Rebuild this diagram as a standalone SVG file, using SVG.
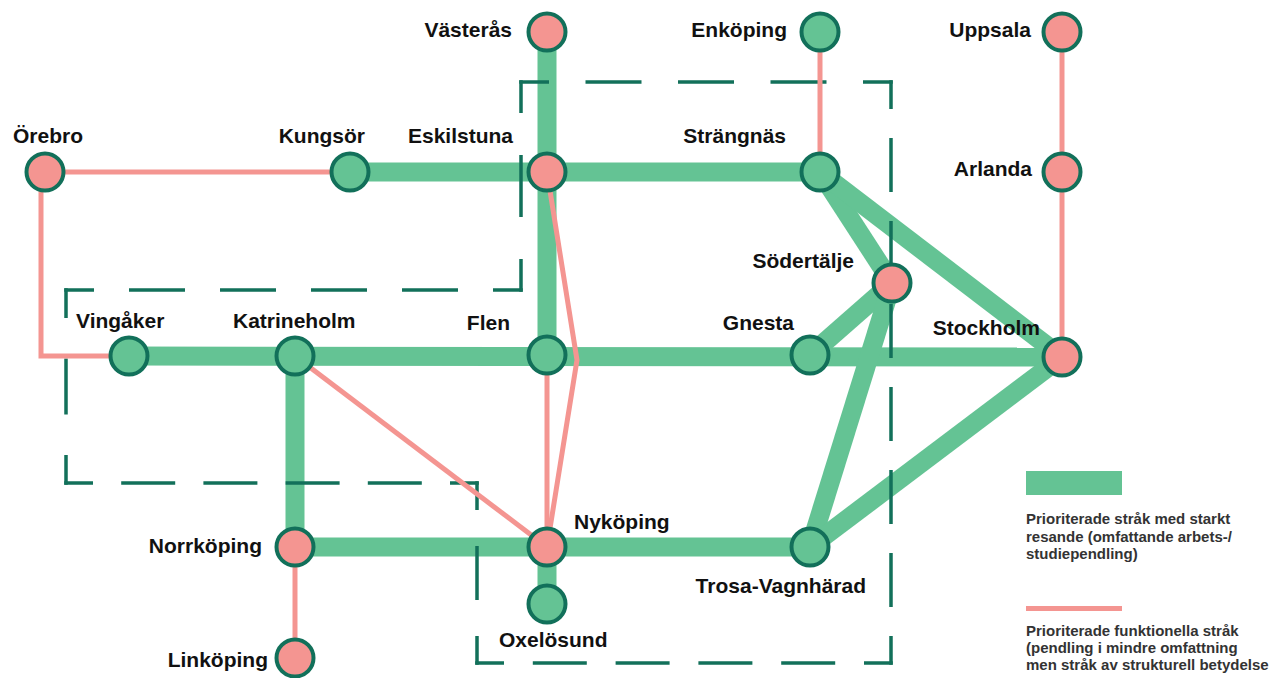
<svg xmlns="http://www.w3.org/2000/svg" width="1274" height="678" viewBox="0 0 1274 678">
<style>
.g{stroke:#64c394;stroke-width:19;fill:none;stroke-linecap:butt}
.p{stroke:#f49591;stroke-width:5;fill:none}
.d{stroke:#12705a;stroke-width:3.5;fill:none;stroke-linecap:square}
.ng{fill:#64c394;stroke:#12705a;stroke-width:4}
.np{fill:#f49591;stroke:#12705a;stroke-width:4}
.lb{font-family:"Liberation Sans",Arial,sans-serif;font-weight:bold;font-size:21px;fill:#111}
.lg{font-family:"Liberation Sans",Arial,sans-serif;font-weight:bold;font-size:15px;fill:#333}
</style>
<rect width="1274" height="678" fill="#fff"/>
<g id="connectors">
<g id="strong">
<line class="g" x1="547" y1="32" x2="547" y2="355"/>
<line class="g" x1="350" y1="172" x2="820" y2="172"/>
<line class="g" x1="820" y1="172" x2="892" y2="283"/>
<line class="g" x1="820" y1="172" x2="1062" y2="357"/>
<line class="g" x1="129" y1="356" x2="1062" y2="357"/>
<line class="g" x1="810" y1="355" x2="892" y2="283"/>
<line class="g" x1="892" y1="283" x2="810" y2="547"/>
<line class="g" x1="810" y1="547" x2="1062" y2="357"/>
<line class="g" x1="295" y1="356" x2="295" y2="547"/>
<line class="g" x1="295" y1="547" x2="810" y2="547"/>
<line class="g" x1="547" y1="547" x2="547" y2="604"/>
</g>
<g id="region-border">
<line class="d" x1="521" y1="82" x2="891" y2="82" stroke-dasharray="52.5 40" stroke-dashoffset="26.25"/>
<line class="d" x1="891" y1="82" x2="891" y2="663" stroke-dasharray="50.5 32.5" stroke-dashoffset="25.25"/>
<line class="d" x1="891" y1="663" x2="477" y2="663" stroke-dasharray="50.5 32.3" stroke-dashoffset="25.25"/>
<line class="d" x1="477" y1="663" x2="477" y2="483" stroke-dasharray="50.5 39.5" stroke-dashoffset="25.25"/>
<line class="d" x1="477" y1="483" x2="66" y2="483" stroke-dasharray="50.5 31.7" stroke-dashoffset="25.25"/>
<line class="d" x1="66" y1="483" x2="66" y2="290" stroke-dasharray="52.5 44" stroke-dashoffset="26.25"/>
<line class="d" x1="66" y1="290" x2="521" y2="290" stroke-dasharray="52.5 38.5" stroke-dashoffset="26.25"/>
<line class="d" x1="521" y1="290" x2="521" y2="82" stroke-dasharray="58.5 45.5" stroke-dashoffset="29.25"/>
</g>
<g id="functional">
<line class="p" x1="45" y1="172" x2="350" y2="172"/>
<path class="p" d="M41,172 V356 H129"/>
<line class="p" x1="820" y1="32" x2="820" y2="172"/>
<line class="p" x1="1062" y1="32" x2="1062" y2="357"/>
<path class="p" d="M547,172 L577,360 L547,547"/>
<line class="p" x1="547" y1="355" x2="547" y2="547"/>
<line class="p" x1="295" y1="356" x2="547" y2="547"/>
<line class="p" x1="295" y1="547" x2="295" y2="658"/>
</g>
</g>
<g id="node-vasteras"><circle class="np" cx="547" cy="32" r="18.5"/><text class="lb" x="512" y="37" text-anchor="end">Västerås</text></g>
<g id="node-enkoping"><circle class="ng" cx="820" cy="32" r="18.5"/><text class="lb" x="787" y="37" text-anchor="end">Enköping</text></g>
<g id="node-uppsala"><circle class="np" cx="1062" cy="32" r="18.5"/><text class="lb" x="1031" y="37" text-anchor="end">Uppsala</text></g>
<g id="node-orebro"><circle class="np" cx="45" cy="172" r="18.5"/><text class="lb" x="13" y="143">Örebro</text></g>
<g id="node-kungsor"><circle class="ng" cx="350" cy="172" r="18.5"/><text class="lb" x="365" y="143" text-anchor="end">Kungsör</text></g>
<g id="node-eskilstuna"><circle class="np" cx="547" cy="172" r="18.5"/><text class="lb" x="513" y="143" text-anchor="end">Eskilstuna</text></g>
<g id="node-strangnas"><circle class="ng" cx="820" cy="172" r="18.5"/><text class="lb" x="786" y="143" text-anchor="end">Strängnäs</text></g>
<g id="node-arlanda"><circle class="np" cx="1062" cy="172" r="18.5"/><text class="lb" x="1032" y="176" text-anchor="end">Arlanda</text></g>
<g id="node-sodertalje"><circle class="np" cx="892" cy="283" r="18.5"/><text class="lb" x="854" y="268" text-anchor="end">Södertälje</text></g>
<g id="node-vingaker"><circle class="ng" cx="129" cy="356" r="18.5"/><text class="lb" x="76" y="328">Vingåker</text></g>
<g id="node-katrineholm"><circle class="ng" cx="295" cy="356" r="18.5"/><text class="lb" x="233" y="328">Katrineholm</text></g>
<g id="node-flen"><circle class="ng" cx="547" cy="355" r="18.5"/><text class="lb" x="510" y="330" text-anchor="end">Flen</text></g>
<g id="node-gnesta"><circle class="ng" cx="810" cy="355" r="18.5"/><text class="lb" x="794" y="330" text-anchor="end">Gnesta</text></g>
<g id="node-stockholm"><circle class="np" cx="1062" cy="357" r="18.5"/><text class="lb" x="1040" y="335" text-anchor="end">Stockholm</text></g>
<g id="node-norrkoping"><circle class="np" cx="295" cy="547" r="18.5"/><text class="lb" x="262" y="553" text-anchor="end">Norrköping</text></g>
<g id="node-nykoping"><circle class="np" cx="547" cy="547" r="18.5"/><text class="lb" x="574" y="529">Nyköping</text></g>
<g id="node-trosa"><circle class="ng" cx="810" cy="547" r="18.5"/><text class="lb" x="866" y="593" text-anchor="end">Trosa-Vagnhärad</text></g>
<g id="node-oxelosund"><circle class="ng" cx="547" cy="604" r="18.5"/><text class="lb" x="499" y="647">Oxelösund</text></g>
<g id="node-linkoping"><circle class="np" cx="295" cy="658" r="18.5"/><text class="lb" x="268" y="667" text-anchor="end">Linköping</text></g>
<g id="legend">
<rect x="1026" y="471" width="96" height="24" fill="#64c394"/>
<text class="lg" x="1026" y="524">Prioriterade stråk med starkt</text>
<text class="lg" x="1026" y="542">resande (omfattande arbets-/</text>
<text class="lg" x="1026" y="559">studiependling)</text>
<rect x="1026" y="606" width="96" height="5" fill="#f49591"/>
<text class="lg" x="1026" y="636">Prioriterade funktionella stråk</text>
<text class="lg" x="1026" y="653">(pendling i mindre omfattning</text>
<text class="lg" x="1026" y="670">men stråk av strukturell betydelse</text>
</g>
</svg>
